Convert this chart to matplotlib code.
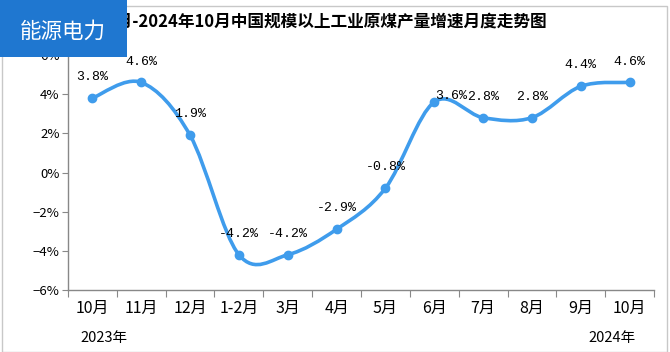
import matplotlib
matplotlib.use("Agg")
from matplotlib import pyplot as plt
from matplotlib.path import Path
from matplotlib.patches import PathPatch, Rectangle

plt.rcParams['font.family'] = ['Noto Sans CJK SC', 'DejaVu Sans']

# 数据
months = ["10月", "11月", "12月", "1-2月", "3月", "4月", "5月", "6月", "7月", "8月", "9月", "10月"]
growth = [3.8, 4.6, 1.9, -4.2, -4.2, -2.9, -0.8, 3.6, 2.8, 2.8, 4.4, 4.6]
y_ticks = [-6, -4, -2, 0, 2, 4, 6]
title = "2023年10月-2024年10月中国规模以上工业原煤产量增速月度走势图"

line_color = "#3f9cec"
W, H = 670, 352

fig = plt.figure(figsize=(W / 100, H / 100), dpi=100)
ax = fig.add_axes([68 / W, 1 - 290 / H, (654 - 68) / W, (290 - 55) / H])

x = list(range(len(growth)))

# 平滑曲线 (Catmull-Rom -> 三次贝塞尔)
verts = [(x[0], growth[0])]
codes = [Path.MOVETO]
n = len(x)
for i in range(n - 1):
    p0 = (x[max(i - 1, 0)], growth[max(i - 1, 0)])
    p1 = (x[i], growth[i])
    p2 = (x[i + 1], growth[i + 1])
    p3 = (x[min(i + 2, n - 1)], growth[min(i + 2, n - 1)])
    c1 = (p1[0] + (p2[0] - p0[0]) / 6, p1[1] + (p2[1] - p0[1]) / 6)
    c2 = (p2[0] - (p3[0] - p1[0]) / 6, p2[1] - (p3[1] - p1[1]) / 6)
    verts += [c1, c2, p2]
    codes += [Path.CURVE4] * 3
ax.add_patch(PathPatch(Path(verts, codes), facecolor="none", edgecolor=line_color,
                       lw=2.6, capstyle="round", zorder=3))
ax.plot(x, growth, "o", color=line_color, ms=6, zorder=4)

# 数据标签
for i, v in enumerate(growth):
    dx, dy = 0, 15
    if i == 7:
        dx, dy = 12, 4
    ax.annotate(f"{v:.1f}%", (i, v), xytext=(dx, dy), textcoords="offset points",
                ha="center", va="center", fontsize=9.5, family="Liberation Mono", zorder=5)

ax.set_xlim(-0.5, len(x) - 0.5)
ax.set_ylim(-6, 6)
ax.set_yticks(y_ticks)
ax.set_yticklabels([f"{t}%".replace("-", "−") for t in y_ticks], fontsize=9.5)
ax.set_xticks([i - 0.5 for i in range(len(x) + 1)])
ax.set_xticklabels([])
ax.set_xticks(x, minor=True)
ax.set_xticklabels(months, minor=True, fontsize=11.5)
ax.tick_params(axis="x", which="major", length=5, color="#888888", direction="out")
ax.tick_params(axis="x", which="minor", length=0, pad=7)
ax.tick_params(axis="y", length=4, color="#888888", pad=2)
for s in ["top", "right"]:
    ax.spines[s].set_visible(False)
for s in ["left", "bottom"]:
    ax.spines[s].set_color("#888888")
    ax.spines[s].set_linewidth(1)

fig.text(104 / W, 1 - 338 / H, "2023年", fontsize=10.5, ha="center", va="center")
fig.text(612 / W, 1 - 338 / H, "2024年", fontsize=10.5, ha="center", va="center")

# 标题 (左端被角标遮住)
fig.text(547 / W, 1 - 22 / H, title, fontsize=12, ha="right", va="center", weight="bold")

# 外框
fig.patches.append(Rectangle((2 / W, 0), 665 / W, 1 - 6 / H, transform=fig.transFigure,
                             fill=False, edgecolor="#c8c8c8", lw=1))

# 左上角标签
fig.patches.append(Rectangle((0, 1 - 57 / H), 127 / W, 57 / H, transform=fig.transFigure,
                             facecolor="#1f77d0", edgecolor="none", zorder=10))
fig.text(63 / W, 1 - 32 / H, "能源电力", fontsize=15.5, color="white", ha="center",
         va="center", zorder=11)

plt.savefig("out.png", dpi=100)
